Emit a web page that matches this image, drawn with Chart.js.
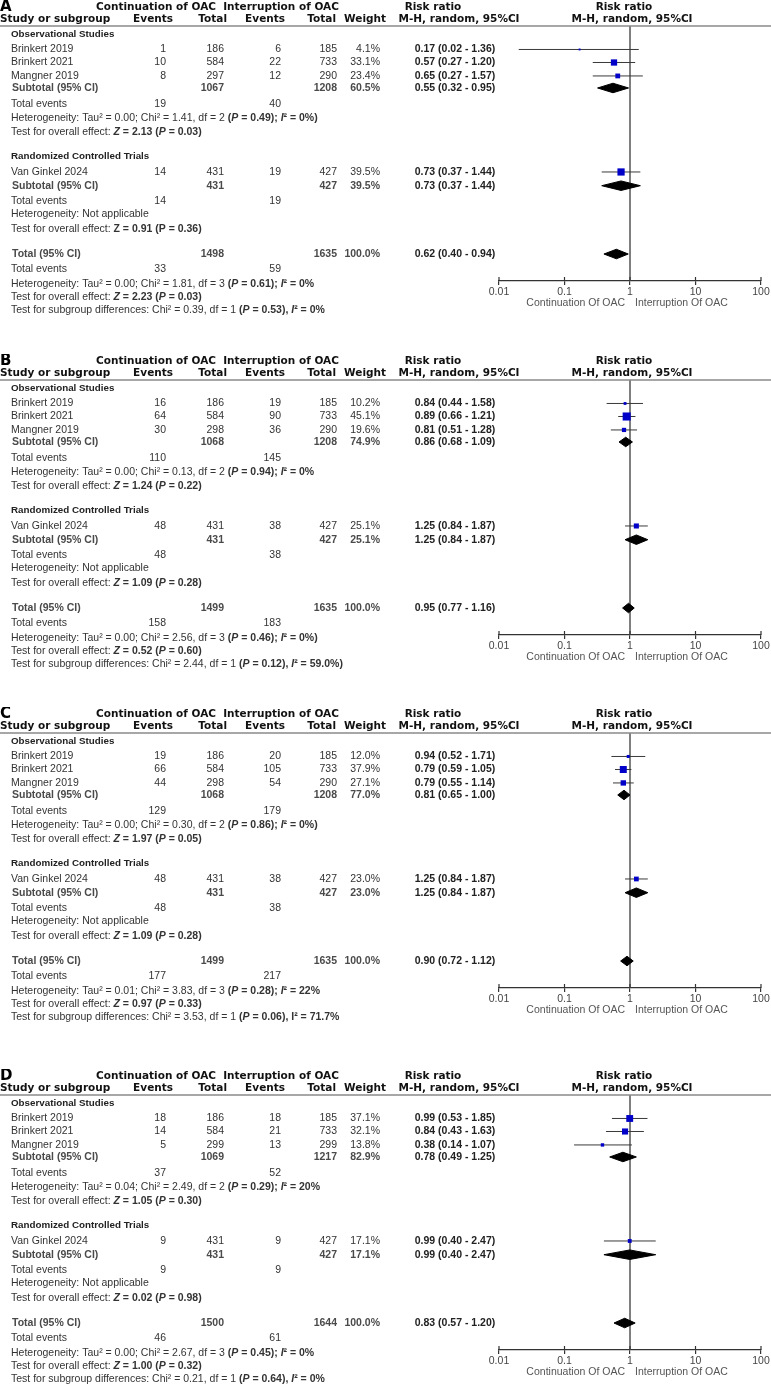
<!DOCTYPE html>
<html>
<head>
<meta charset="utf-8">
<script src="https://cdn.jsdelivr.net/npm/chart.js@4.4.1/dist/chart.umd.min.js"></script>
<style>
  html, body { margin: 0; padding: 0; background: #fff; }
  body { width: 771px; height: 1386px; position: relative; overflow: hidden; }
  .panel { position: absolute; left: 0; width: 771px; height: 320px; }
</style>
</head>
<body>
<div class="panel" style="top:0px"><canvas id="cA"></canvas></div>
<div class="panel" style="top:354px"><canvas id="cB"></canvas></div>
<div class="panel" style="top:707px"><canvas id="cC"></canvas></div>
<div class="panel" style="top:1069px"><canvas id="cD"></canvas></div>
<script>
// ---- data ----
const studies = ['Brinkert 2019', 'Brinkert 2021', 'Mangner 2019', 'Van Ginkel 2024'];
const tickValues = [0.01, 0.1, 1, 10, 100];
const tickLabels = ['0.01', '0.1', '1', '10', '100'];

// A
const aEventsCont = [1, 10, 8, 14];
const aTotalCont = [186, 584, 297, 431];
const aEventsInt = [6, 22, 12, 19];
const aTotalInt = [185, 733, 290, 427];
const aWeight = [4.1, 33.1, 23.4, 39.5];
const aRR = [0.17, 0.57, 0.65, 0.73];
const aLow = [0.02, 0.27, 0.27, 0.37];
const aHigh = [1.36, 1.20, 1.57, 1.44];
const aSubTotalCont = [1067, 431, 1498];
const aSubTotalInt = [1208, 427, 1635];
const aSubWeight = [60.5, 39.5, 100.0];
const aSubRR = [0.55, 0.73, 0.62];
const aSubLow = [0.32, 0.37, 0.40];
const aSubHigh = [0.95, 1.44, 0.94];
const aSubEventsCont = [19, 14, 33];
const aSubEventsInt = [40, 19, 59];
const aNotes = [
  'Heterogeneity: Tau² = 0.00; Chi² = 1.41, df = 2 ~(_P_ = 0.49); _I_² = 0%)~',
  'Test for overall effect: ~_Z_ = 2.13 (_P_ = 0.03)~',
  'Heterogeneity: Not applicable',
  'Test for overall effect: ~Z = 0.91 (P = 0.36)~',
  'Heterogeneity: Tau² = 0.00; Chi² = 1.81, df = 3 ~(_P_ = 0.61); _I_² = 0%~',
  'Test for overall effect: ~_Z_ = 2.23 (_P_ = 0.03)~',
  'Test for subgroup differences: Chi² = 0.39, df = 1 ~(_P_ = 0.53), _I_² = 0%~'
];

// B
const bEventsCont = [16, 64, 30, 48];
const bTotalCont = [186, 584, 298, 431];
const bEventsInt = [19, 90, 36, 38];
const bTotalInt = [185, 733, 290, 427];
const bWeight = [10.2, 45.1, 19.6, 25.1];
const bRR = [0.84, 0.89, 0.81, 1.25];
const bLow = [0.44, 0.66, 0.51, 0.84];
const bHigh = [1.58, 1.21, 1.28, 1.87];
const bSubTotalCont = [1068, 431, 1499];
const bSubTotalInt = [1208, 427, 1635];
const bSubWeight = [74.9, 25.1, 100.0];
const bSubRR = [0.86, 1.25, 0.95];
const bSubLow = [0.68, 0.84, 0.77];
const bSubHigh = [1.09, 1.87, 1.16];
const bSubEventsCont = [110, 48, 158];
const bSubEventsInt = [145, 38, 183];
const bNotes = [
  'Heterogeneity: Tau² = 0.00; Chi² = 0.13, df = 2 ~(_P_ = 0.94); _I_² = 0%~',
  'Test for overall effect: ~_Z_ = 1.24 (_P_ = 0.22)~',
  'Heterogeneity: Not applicable',
  'Test for overall effect: ~_Z_ = 1.09 (_P_ = 0.28)~',
  'Heterogeneity: Tau² = 0.00; Chi² = 2.56, df = 3 ~(_P_ = 0.46); _I_² = 0%)~',
  'Test for overall effect: ~_Z_ = 0.52 (_P_ = 0.60)~',
  'Test for subgroup differences: Chi² = 2.44, df = 1 ~(_P_ = 0.12), _I_² = 59.0%)~'
];

// C
const cEventsCont = [19, 66, 44, 48];
const cTotalCont = [186, 584, 298, 431];
const cEventsInt = [20, 105, 54, 38];
const cTotalInt = [185, 733, 290, 427];
const cWeight = [12.0, 37.9, 27.1, 23.0];
const cRR = [0.94, 0.79, 0.79, 1.25];
const cLow = [0.52, 0.59, 0.55, 0.84];
const cHigh = [1.71, 1.05, 1.14, 1.87];
const cSubTotalCont = [1068, 431, 1499];
const cSubTotalInt = [1208, 427, 1635];
const cSubWeight = [77.0, 23.0, 100.0];
const cSubRR = [0.81, 1.25, 0.90];
const cSubLow = [0.65, 0.84, 0.72];
const cSubHigh = [1.00, 1.87, 1.12];
const cSubEventsCont = [129, 48, 177];
const cSubEventsInt = [179, 38, 217];
const cNotes = [
  'Heterogeneity: Tau² = 0.00; Chi² = 0.30, df = 2 ~(_P_ = 0.86); _I_² = 0%)~',
  'Test for overall effect: ~_Z_ = 1.97 (_P_ = 0.05)~',
  'Heterogeneity: Not applicable',
  'Test for overall effect: ~_Z_ = 1.09 (_P_ = 0.28)~',
  'Heterogeneity: Tau² = 0.01; Chi² = 3.83, df = 3 ~(_P_ = 0.28); _I_² = 22%~',
  'Test for overall effect: ~_Z_ = 0.97 (_P_ = 0.33)~',
  'Test for subgroup differences: Chi² = 3.53, df = 1 ~(_P_ = 0.06), I² = 71.7%~'
];

// D
const dEventsCont = [18, 14, 5, 9];
const dTotalCont = [186, 584, 299, 431];
const dEventsInt = [18, 21, 13, 9];
const dTotalInt = [185, 733, 299, 427];
const dWeight = [37.1, 32.1, 13.8, 17.1];
const dRR = [0.99, 0.84, 0.38, 0.99];
const dLow = [0.53, 0.43, 0.14, 0.40];
const dHigh = [1.85, 1.63, 1.07, 2.47];
const dSubTotalCont = [1069, 431, 1500];
const dSubTotalInt = [1217, 427, 1644];
const dSubWeight = [82.9, 17.1, 100.0];
const dSubRR = [0.78, 0.99, 0.83];
const dSubLow = [0.49, 0.40, 0.57];
const dSubHigh = [1.25, 2.47, 1.20];
const dSubEventsCont = [37, 9, 46];
const dSubEventsInt = [52, 9, 61];
const dNotes = [
  'Heterogeneity: Tau² = 0.04; Chi² = 2.49, df = 2 ~(_P_ = 0.29); _I_² = 20%~',
  'Test for overall effect: ~_Z_ = 1.05 (_P_ = 0.30)~',
  'Heterogeneity: Not applicable',
  'Test for overall effect: ~_Z_ = 0.02 (_P_ = 0.98)~',
  'Heterogeneity: Tau² = 0.00; Chi² = 2.67, df = 3 ~(_P_ = 0.45); _I_² = 0%~',
  'Test for overall effect: ~_Z_ = 1.00 (_P_ = 0.32)~',
  'Test for subgroup differences: Chi² = 0.21, df = 1 ~(_P_ = 0.64), _I_² = 0%~'
];

// ---- layout (row slots, 14px apart) ----
const groupLabels = ['Observational Studies', 'Randomized Controlled Trials'];
const subLabels = ['Subtotal (95% CI)', 'Subtotal (95% CI)', 'Total (95% CI)'];
const groupRows = [0, 8.68];
const studyRows = [1.07, 2.0, 2.96, 9.82];
const subRows = [3.82, 10.8, 15.68];
const eventRows = [4.96, 11.9, 16.75];
const noteRows = [5.96, 6.96, 12.85, 13.9, 17.8, 18.75, 19.7];
const Y_MIN = -0.607, Y_MAX = 17.607;
const COL = { name: 11, evC: 166, totC: 224, evI: 281, totI: 337, w: 380, ci: 455 };
const BODY = '"Liberation Sans", Arial, sans-serif';
const HEAD = '"DejaVu Sans", Verdana, sans-serif';
const FS = 10.5;

const panels = [
  { id: 'cA', letter: 'A', evC: aEventsCont, totC: aTotalCont, evI: aEventsInt, totI: aTotalInt, w: aWeight, rr: aRR, lo: aLow, hi: aHigh,
    sTotC: aSubTotalCont, sTotI: aSubTotalInt, sW: aSubWeight, sRR: aSubRR, sLo: aSubLow, sHi: aSubHigh, sEvC: aSubEventsCont, sEvI: aSubEventsInt, notes: aNotes },
  { id: 'cB', letter: 'B', evC: bEventsCont, totC: bTotalCont, evI: bEventsInt, totI: bTotalInt, w: bWeight, rr: bRR, lo: bLow, hi: bHigh,
    sTotC: bSubTotalCont, sTotI: bSubTotalInt, sW: bSubWeight, sRR: bSubRR, sLo: bSubLow, sHi: bSubHigh, sEvC: bSubEventsCont, sEvI: bSubEventsInt, notes: bNotes },
  { id: 'cC', letter: 'C', evC: cEventsCont, totC: cTotalCont, evI: cEventsInt, totI: cTotalInt, w: cWeight, rr: cRR, lo: cLow, hi: cHigh,
    sTotC: cSubTotalCont, sTotI: cSubTotalInt, sW: cSubWeight, sRR: cSubRR, sLo: cSubLow, sHi: cSubHigh, sEvC: cSubEventsCont, sEvI: cSubEventsInt, notes: cNotes },
  { id: 'cD', letter: 'D', evC: dEventsCont, totC: dTotalCont, evI: dEventsInt, totI: dTotalInt, w: dWeight, rr: dRR, lo: dLow, hi: dHigh,
    sTotC: dSubTotalCont, sTotI: dSubTotalInt, sW: dSubWeight, sRR: dSubRR, sLo: dSubLow, sHi: dSubHigh, sEvC: dSubEventsCont, sEvI: dSubEventsInt, notes: dNotes }
];

const ciText = (r, l, h) => r.toFixed(2) + ' (' + l.toFixed(2) + ' - ' + h.toFixed(2) + ')';

// text with ~bold~ and _italic_ marks
function rich(ctx, str, x, y, color) {
  let bold = false, ital = false, buf = '', cx = x;
  const flush = () => {
    if (!buf) return;
    ctx.font = (ital ? 'italic ' : '') + (bold ? 'bold ' : '') + FS + 'px ' + BODY;
    ctx.fillStyle = color;
    ctx.fillText(buf, cx, y);
    cx += ctx.measureText(buf).width;
    buf = '';
  };
  for (const ch of str) {
    if (ch === '~') { flush(); bold = !bold; }
    else if (ch === '_') { flush(); ital = !ital; }
    else buf += ch;
  }
  flush();
}

function txt(ctx, s, x, y, align, font, color) {
  ctx.font = font;
  ctx.fillStyle = color;
  ctx.textAlign = align;
  ctx.fillText(s, x, y);
}

function tablePlugin(p) {
  return {
    id: 'table' + p.letter,
    afterDraw(chart) {
      const ctx = chart.ctx, ys = chart.scales.y, xs = chart.scales.x, ca = chart.chartArea;
      const Y = v => ys.getPixelForValue(v);
      const hb = sz => 'bold ' + sz + 'px ' + HEAD;
      const nb = 'normal ' + FS + 'px ' + BODY;
      const bb = 'bold ' + FS + 'px ' + BODY;
      ctx.save();

      // headers
      ctx.textBaseline = 'alphabetic';
      txt(ctx, p.letter, 0, 11, 'left', hb(15), '#000');
      txt(ctx, 'Continuation of OAC', 156, 10, 'center', hb(10.5), '#111');
      txt(ctx, 'Interruption of OAC', 281, 10, 'center', hb(10.5), '#111');
      txt(ctx, 'Risk ratio', 433, 10, 'center', hb(10.5), '#111');
      txt(ctx, 'Risk ratio', 624, 10, 'center', hb(10.5), '#111');
      txt(ctx, 'Study or subgroup', 0, 22, 'left', hb(10.5), '#111');
      txt(ctx, 'Events', 173, 22, 'right', hb(10.5), '#111');
      txt(ctx, 'Total', 227, 22, 'right', hb(10.5), '#111');
      txt(ctx, 'Events', 285, 22, 'right', hb(10.5), '#111');
      txt(ctx, 'Total', 336, 22, 'right', hb(10.5), '#111');
      txt(ctx, 'Weight', 386, 22, 'right', hb(10.5), '#111');
      txt(ctx, 'M-H, random, 95%CI', 459, 22, 'center', hb(10.5), '#111');
      txt(ctx, 'M-H, random, 95%CI', 632, 22, 'center', hb(10.5), '#111');

      ctx.strokeStyle = '#8a8a8a';
      ctx.lineWidth = 1.5;
      ctx.beginPath();
      ctx.moveTo(0, ca.top);
      ctx.lineTo(771, ca.top);
      ctx.stroke();

      ctx.textBaseline = 'middle';
      groupLabels.forEach((g, i) => txt(ctx, g, COL.name, Y(groupRows[i]), 'left', 'bold 9.8px ' + BODY, '#222'));

      studies.forEach((s, i) => {
        const y = Y(studyRows[i]);
        txt(ctx, s, COL.name, y, 'left', nb, '#333');
        txt(ctx, String(p.evC[i]), COL.evC, y, 'right', nb, '#333');
        txt(ctx, String(p.totC[i]), COL.totC, y, 'right', nb, '#333');
        txt(ctx, String(p.evI[i]), COL.evI, y, 'right', nb, '#333');
        txt(ctx, String(p.totI[i]), COL.totI, y, 'right', nb, '#333');
        txt(ctx, p.w[i].toFixed(1) + '%', COL.w, y, 'right', nb, '#333');
        txt(ctx, ciText(p.rr[i], p.lo[i], p.hi[i]), COL.ci, y, 'center', bb, '#222');
      });

      subLabels.forEach((lab, k) => {
        const y = Y(subRows[k]);
        txt(ctx, lab, COL.name + 1, y, 'left', bb, '#4a4a4a');
        txt(ctx, String(p.sTotC[k]), COL.totC, y, 'right', bb, '#4a4a4a');
        txt(ctx, String(p.sTotI[k]), COL.totI, y, 'right', bb, '#4a4a4a');
        txt(ctx, p.sW[k].toFixed(1) + '%', COL.w, y, 'right', bb, '#4a4a4a');
        txt(ctx, ciText(p.sRR[k], p.sLo[k], p.sHi[k]), COL.ci, y, 'center', bb, '#222');
        const ye = Y(eventRows[k]);
        txt(ctx, 'Total events', COL.name, ye, 'left', nb, '#333');
        txt(ctx, String(p.sEvC[k]), COL.evC, ye, 'right', nb, '#333');
        txt(ctx, String(p.sEvI[k]), COL.evI, ye, 'right', nb, '#333');
      });

      ctx.textAlign = 'left';
      p.notes.forEach((n, i) => rich(ctx, n, COL.name, Y(noteRows[i]), '#333'));

      // upper halves of the axis ticks and the axis captions
      ctx.strokeStyle = '#333';
      ctx.lineWidth = 1.2;
      tickValues.forEach(v => {
        const x = xs.getPixelForValue(v);
        ctx.beginPath();
        ctx.moveTo(x, ca.bottom - 4);
        ctx.lineTo(x, ca.bottom);
        ctx.stroke();
      });
      const x1 = xs.getPixelForValue(1);
      txt(ctx, 'Continuation Of OAC', x1 - 5, ca.bottom + 22, 'right', 'normal 10.5px ' + BODY, '#555');
      txt(ctx, 'Interruption Of OAC', x1 + 5, ca.bottom + 22, 'left', 'normal 10.5px ' + BODY, '#555');
      ctx.restore();
    }
  };
}

function makeChart(p) {
  const sets = [];
  // study squares, side grows with weight
  sets.push({
    type: 'scatter',
    data: studies.map((s, i) => ({ x: p.rr[i], y: studyRows[i] })),
    pointStyle: 'rect',
    pointRadius: p.w.map(w => (1.3 + 0.15 * w) / 1.414),
    pointBackgroundColor: '#0000c8',
    pointBorderWidth: 0,
    showLine: false
  });
  // pooled diamonds
  subRows.forEach((r, k) => {
    sets.push({
      type: 'line',
      data: [
        { x: p.sLo[k], y: r }, { x: p.sRR[k], y: r - 0.34 },
        { x: p.sHi[k], y: r }, { x: p.sRR[k], y: r + 0.34 }, { x: p.sLo[k], y: r }
      ],
      borderColor: '#000', borderWidth: 1, backgroundColor: '#000',
      fill: 'shape', pointRadius: 0, tension: 0
    });
  });
  // confidence intervals
  studies.forEach((s, i) => {
    sets.push({
      type: 'line',
      data: [{ x: p.lo[i], y: studyRows[i] }, { x: p.hi[i], y: studyRows[i] }],
      borderColor: '#3a3a3a', borderWidth: 1, pointRadius: 0, fill: false
    });
  });
  // line of no effect
  sets.push({
    type: 'line',
    data: [{ x: 1, y: Y_MIN }, { x: 1, y: Y_MAX }],
    borderColor: '#555', borderWidth: 1.5, pointRadius: 0, fill: false
  });

  new Chart(document.getElementById(p.id), {
    type: 'scatter',
    data: { datasets: sets },
    options: {
      responsive: true,
      maintainAspectRatio: false,
      animation: false,
      layout: { padding: { left: 499, right: 10, top: 26, bottom: 0 } },
      plugins: { legend: { display: false }, tooltip: { enabled: false } },
      scales: {
        x: {
          type: 'logarithmic', min: 0.01, max: 100, position: 'bottom',
          afterBuildTicks: s => { s.ticks = tickValues.map(v => ({ value: v })); },
          afterFit: s => { s.height = 39; s.paddingLeft = 0; s.paddingRight = 0; },
          ticks: { autoSkip: false, maxRotation: 0, padding: 1, color: '#444',
                   font: { family: BODY, size: 10.5 }, callback: (v, i) => tickLabels[i] },
          grid: { drawOnChartArea: false, drawTicks: true, tickLength: 4, color: '#333', lineWidth: 1.2 },
          border: { display: true, color: '#333', width: 1.2 }
        },
        y: { type: 'linear', min: Y_MIN, max: Y_MAX, reverse: true, display: false }
      }
    },
    plugins: [tablePlugin(p)]
  });
}

panels.forEach(makeChart);
</script>
</body>
</html>
